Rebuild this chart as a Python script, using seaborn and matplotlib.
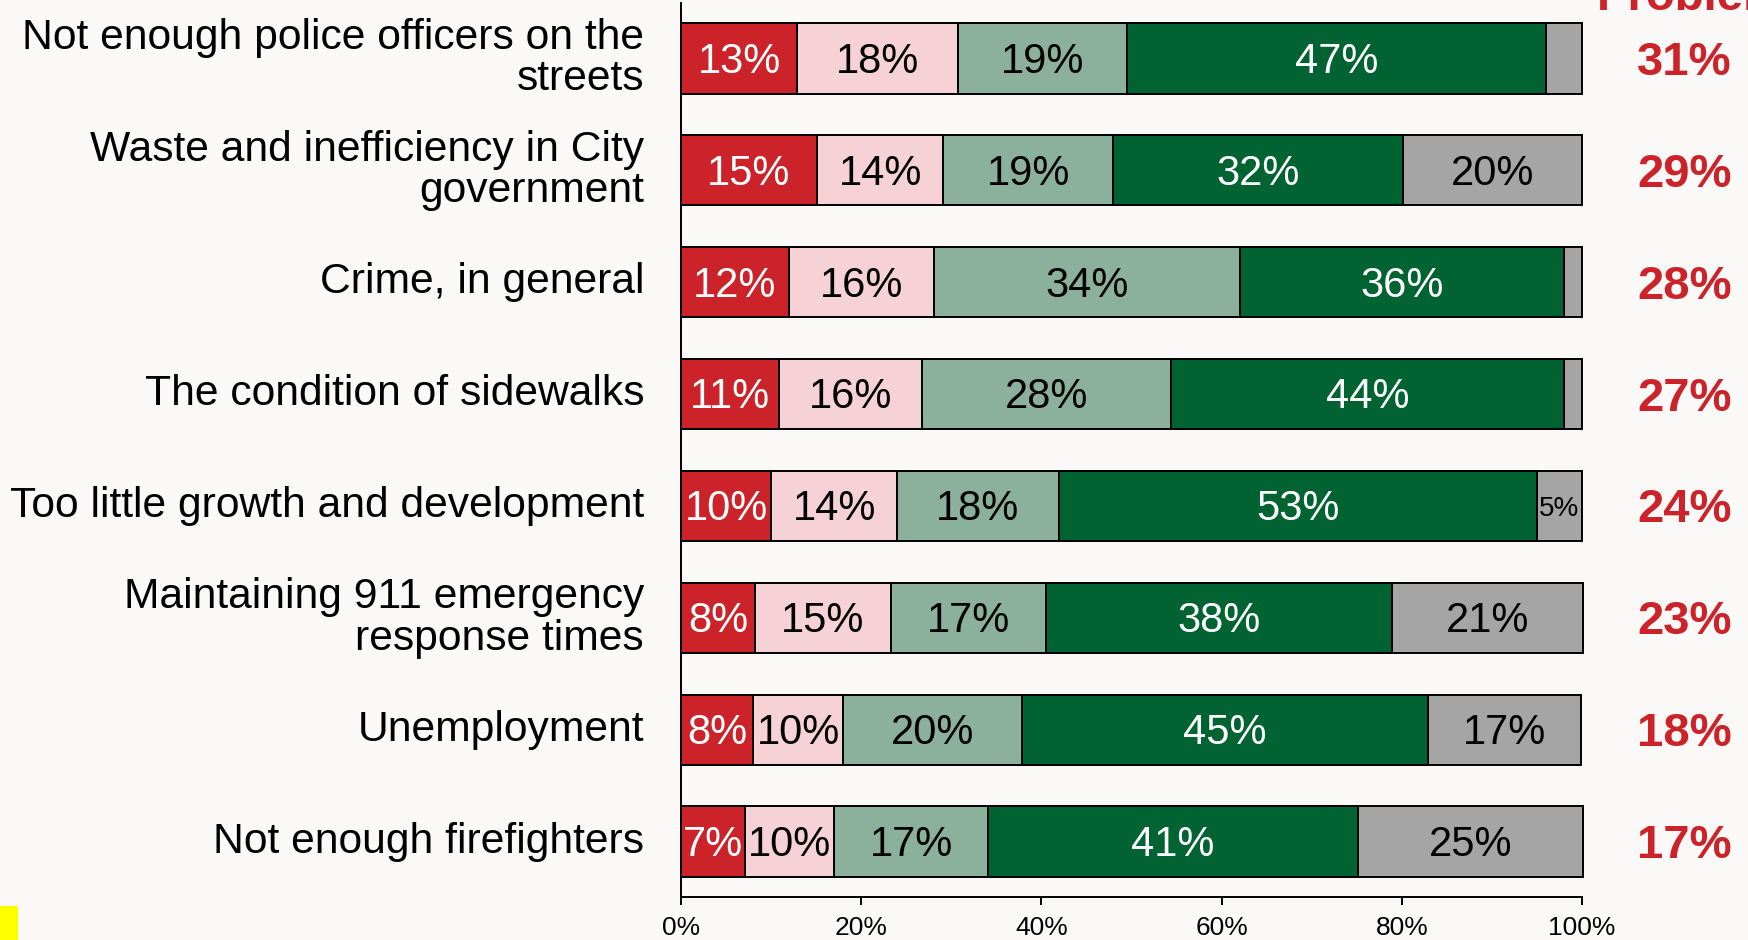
import pandas as pd
import seaborn as sns
import matplotlib
matplotlib.use("Agg")
import matplotlib.pyplot as plt
from matplotlib.patches import Rectangle

# data
issues = [
    "Not enough police officers on the\nstreets",
    "Waste and inefficiency in City\ngovernment",
    "Crime, in general",
    "The condition of sidewalks",
    "Too little growth and development",
    "Maintaining 911 emergency\nresponse times",
    "Unemployment",
    "Not enough firefighters",
]
segments = ["s1", "s2", "s3", "s4", "s5"]
seg1 = [12.9, 15.1, 12.0, 10.9, 10.0, 8.2, 8.0, 7.1]
seg2 = [17.8, 14.0, 16.1, 15.8, 14.0, 15.1, 10.0, 9.9]
seg3 = [18.8, 18.9, 33.9, 27.7, 17.9, 17.2, 19.9, 17.1]
seg4 = [46.5, 32.1, 36.0, 43.6, 53.1, 38.4, 45.0, 41.0]
seg5 = [4.0, 19.9, 2.0, 2.0, 5.0, 21.2, 17.0, 25.0]
seg_labels = [
    ["13%", "18%", "19%", "47%", ""],
    ["15%", "14%", "19%", "32%", "20%"],
    ["12%", "16%", "34%", "36%", ""],
    ["11%", "16%", "28%", "44%", ""],
    ["10%", "14%", "18%", "53%", "5%"],
    ["8%", "15%", "17%", "38%", "21%"],
    ["8%", "10%", "20%", "45%", "17%"],
    ["7%", "10%", "17%", "41%", "25%"],
]
problem = ["31%", "29%", "28%", "27%", "24%", "23%", "18%", "17%"]
xticks = [0, 20, 40, 60, 80, 100]
xtick_labels = ["0%", "20%", "40%", "60%", "80%", "100%"]

colors = ["#cc2229", "#f6d1d5", "#8bb09c", "#006331", "#a5a5a5"]
text_colors = ["white", "black", "black", "white", "black"]
bg = "#faf9f7"

sns.set_style("white")
plt.rcParams["font.family"] = ["Liberation Sans", "DejaVu Sans"]
plt.rcParams["text.color"] = "black"
plt.rcParams["xtick.color"] = "black"
plt.rcParams["xtick.labelcolor"] = "black"

vals = [seg1, seg2, seg3, seg4, seg5]
rows = []
for i, name in enumerate(issues):
    cum = 0
    for j, s in enumerate(segments):
        cum += vals[j][i]
        rows.append({"issue": name, "segment": s, "value": vals[j][i],
                     "cum": cum, "mid": cum - vals[j][i] / 2})
df = pd.DataFrame(rows)

fig = plt.figure(figsize=(17.49, 9.40), dpi=100, facecolor=bg)
ax = fig.add_axes([681 / 1749, 1 - 897 / 940, 901 / 1749, 894 / 940])
ax.set_facecolor(bg)

# stacked bars: draw cumulative totals from the longest down
for j in reversed(range(len(segments))):
    sub = df[df["segment"] == segments[j]]
    sns.barplot(data=sub, x="cum", y="issue", order=issues, color=colors[j],
                width=0.628, edgecolor="black", linewidth=1.4, saturation=1,
                ax=ax)
for p in ax.patches:
    p.set_clip_on(False)

for i in range(len(issues)):
    for j in range(len(segments)):
        r = df[(df["issue"] == issues[i]) & (df["segment"] == segments[j])].iloc[0]
        lab = seg_labels[i][j]
        if lab:
            fs = 20 if r["value"] < 6 else 30
            ax.text(r["mid"], i + 0.03, lab, ha="center", va="center",
                    fontsize=fs, color=text_colors[j])
    ax.text(-4.1, i, issues[i], ha="right", va="center", fontsize=30.7,
            linespacing=1.05, clip_on=False, color="black")
    ax.text(111.4, i + 0.04, problem[i], ha="center", va="center",
            fontsize=34, fontweight="bold", color="#cc2229", clip_on=False)

ax.text(112.2, -0.43, "Problem", ha="center", va="baseline", fontsize=34,
        fontweight="bold", color="#cc2229", clip_on=False)

ax.set_xlim(0, 100)
ax.set_ylim(7.496, -0.496)
ax.set_xlabel("")
ax.set_ylabel("")
ax.set_yticks([])
ax.set_xticks(xticks)
ax.set_xticklabels(xtick_labels, fontsize=19)
ax.tick_params(axis="x", direction="out", length=6, width=1.4, pad=8,
               bottom=True, color="black", labelcolor="black")
sns.despine(ax=ax, top=True, right=True)
for s in ["left", "bottom"]:
    ax.spines[s].set_color("black")
    ax.spines[s].set_linewidth(1.4)

fig.add_artist(Rectangle((0, 0), 17 / 1749, 34 / 940, transform=fig.transFigure,
                         color="#ffff00"))

fig.savefig("out.png", dpi=100, facecolor=bg)
